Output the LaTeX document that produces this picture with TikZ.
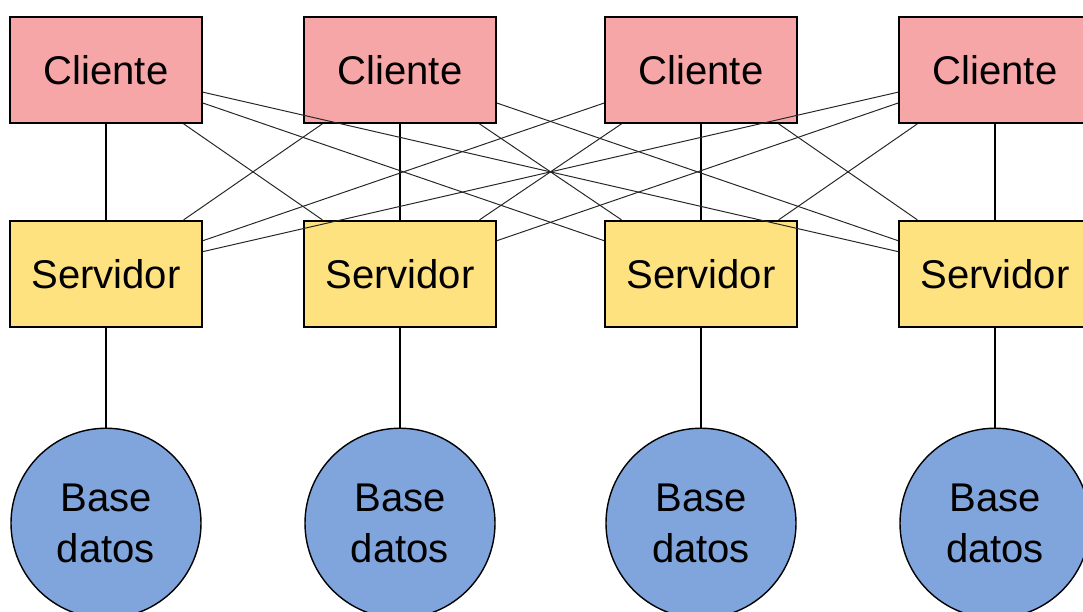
\documentclass[tikz,border=0pt]{standalone}
\usepackage{fontspec}
\setmainfont{Liberation Sans}
\usepackage{tikz}
\usetikzlibrary{positioning}

\definecolor{clientpink}{RGB}{247,166,168}
\definecolor{servyellow}{RGB}{254,226,128}
\definecolor{dbblue}{RGB}{128,164,220}

\tikzset{
	cliente/.style={draw, fill=clientpink, line width=1.2pt,
		minimum width=4.8cm, minimum height=2.65cm,
		font=\fontsize{28.5}{36.5}\selectfont},
	servidor/.style={draw, fill=servyellow, line width=1.2pt,
		minimum width=4.8cm, minimum height=2.65cm,
		font=\fontsize{28.5}{36.5}\selectfont},
	basedatos/.style={draw, circle, fill=dbblue, line width=1.0pt,
		minimum size=4.75cm, inner sep=0pt, align=center,
		font=\fontsize{28.5}{36.5}\selectfont},
	enlace/.style={line width=0.9pt},
	cruce/.style={line width=0.7pt, draw=black!85},
}

\begin{document}
\begin{tikzpicture}
		
		% ---------------------
		% Proper size --- Bounding box
		\useasboundingbox (0cm, 0cm) rectangle (27.075cm, -15.3cm);
		
		% ---------------------
		% Clients
		
		\node[cliente] (Cli1) at (2.650cm, -1.75cm) {Cliente};
		\node[cliente] (Cli2) at (10.000cm, -1.75cm) {Cliente};
		\node[cliente] (Cli3) at (17.525cm, -1.75cm) {Cliente};
		\node[cliente] (Cli4) at (24.875cm, -1.75cm) {Cliente};
		
		% ---------------------
		% Servers & databases
		
		\node[servidor, below=2.40cm of Cli1] (Serv1) {Servidor};
		\node[servidor, below=2.40cm of Cli2] (Serv2) {Servidor};
		\node[servidor, below=2.40cm of Cli3] (Serv3) {Servidor};
		\node[servidor, below=2.40cm of Cli4] (Serv4) {Servidor};
		
		\node[basedatos, below=2.50cm of Serv1] (BD1) {Base\\datos};
		\node[basedatos, below=2.50cm of Serv2] (BD2) {Base\\datos};
		\node[basedatos, below=2.50cm of Serv3] (BD3) {Base\\datos};
		\node[basedatos, below=2.50cm of Serv4] (BD4) {Base\\datos};
		
		% ---------------------
		% Columns
		
		\draw[enlace] (Cli1) -- (Serv1) -- (BD1);
		\draw[enlace] (Cli2) -- (Serv2) -- (BD2);
		\draw[enlace] (Cli3) -- (Serv3) -- (BD3);
		\draw[enlace] (Cli4) -- (Serv4) -- (BD4);
		
		% ---------------------
		% Every client to every other server
		
		\draw[cruce] (Cli1) -- (Serv2);
		\draw[cruce] (Cli1) -- (Serv3);
		\draw[cruce] (Cli1) -- (Serv4);
		
		\draw[cruce] (Cli2) -- (Serv1);
		\draw[cruce] (Cli2) -- (Serv3);
		\draw[cruce] (Cli2) -- (Serv4);
		
		\draw[cruce] (Cli3) -- (Serv1);
		\draw[cruce] (Cli3) -- (Serv2);
		\draw[cruce] (Cli3) -- (Serv4);
		
		\draw[cruce] (Cli4) -- (Serv1);
		\draw[cruce] (Cli4) -- (Serv2);
		\draw[cruce] (Cli4) -- (Serv3);
		
\end{tikzpicture}
\end{document}
